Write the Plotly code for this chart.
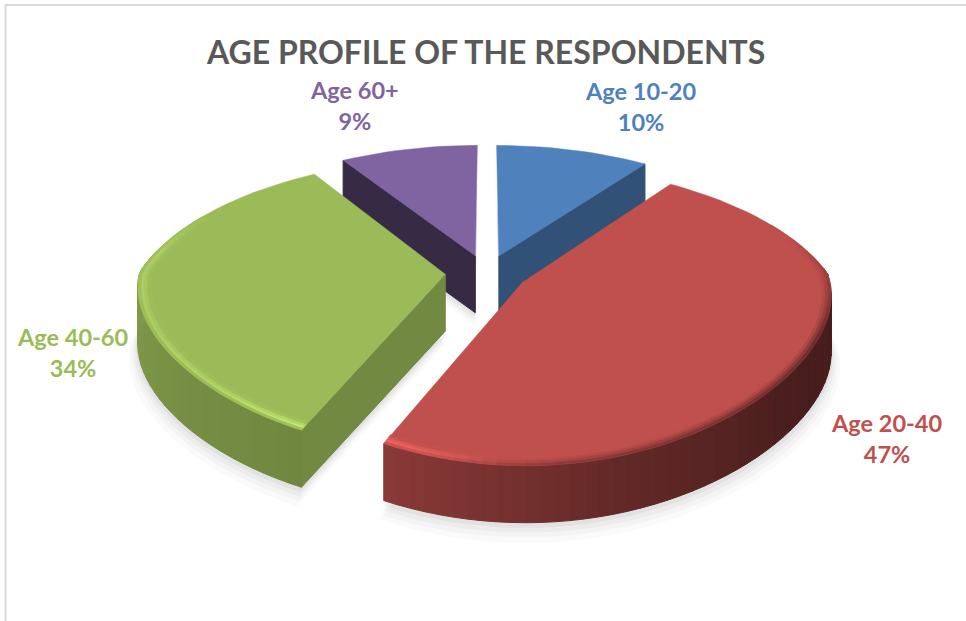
import numpy as np
import plotly.graph_objects as go

# ---- data ----
categories = ["Age 10-20", "Age 20-40", "Age 40-60", "Age 60+"]
percent = [10, 47, 34, 9]
colors = ["#4F81BD", "#C0504D", "#9BBB59", "#8064A2"]
title_text = "AGE PROFILE OF THE RESPONDENTS"

# ---- 3-D pie projection ----
CX, CY, A, B, H, EXPLODE = 486.5, 273.0, 306.0, 136.0, 57.0, 0.135


def project(u, v, depth=0.0):
    u, v = np.asarray(u, float), np.asarray(v, float)
    wx = 1.0 / (1.0 + np.where(v > 0, 0.23, 0.08) * v)
    wy = 1.0 / (1.0 + np.where(v > 0, 0.18, 0.23) * v)
    return CX + A * u * wx, CY - B * v * wy + depth * H


def rgb(hexstr):
    return np.array([int(hexstr[i:i + 2], 16) for i in (1, 3, 5)], float)


def css(c):
    c = np.clip(c, 0, 255)
    return f"rgb({c[0]:.0f},{c[1]:.0f},{c[2]:.0f})"


def poly(fig, xs, ys, color, width=1.0):
    xs, ys = list(xs), list(ys)
    fig.add_trace(go.Scatter(
        x=xs + [xs[0]], y=ys + [ys[0]], mode="lines", fill="toself",
        fillcolor=color, line=dict(color=color, width=width),
        hoverinfo="skip", showlegend=False))


def wall_shade(theta):
    return np.interp(theta, [90, 125, 165, 205, 270, 300], [.36, .38, .52, .72, .82, .82])


def rim_colour(base, theta, t):
    """t: 0 inner edge of the bevel, 1 outer edge."""
    strength = np.interp(theta, [150, 185, 204, 225, 250, 280, 300], [0, .06, .34, .2, .14, .16, 0])
    glow = np.exp(-((t - .6) / .32) ** 2) * strength
    c = base * (1 + .75 * glow)
    dark = np.interp(theta, [70, 110, 175, 195], [0, .5, .3, 0]) * np.interp(t, [.2, 1], [0, 1])
    dark += np.interp(theta, [195, 206, 300], [.05, .2, 0]) * np.interp(t, [.8, 1], [0, 1])
    return c * (1 - dark)


fig = go.Figure()
fractions = np.array(percent, float) / sum(percent)
ends = np.cumsum(fractions) * 360.0
starts = ends - fractions * 360.0

for idx in [3, 0, 2, 1]:                     # painter's order, far slices first
    base = rgb(colors[idx])
    t0, t1 = starts[idx], ends[idx]
    mid = np.radians((t0 + t1) / 2)
    ox, oy = EXPLODE * np.sin(mid), EXPLODE * np.cos(mid)
    n = max(6, int((t1 - t0) / 2.5))
    th = np.linspace(t0, t1, n + 1)
    ar = np.radians(th)
    ux, vy = ox + np.sin(ar), oy + np.cos(ar)

    # soft ground shadow
    for grow, drop, alpha in [(1.03, 13, .02), (1.02, 10, .025), (1.012, 7, .03), (1.005, 4, .04)]:
        su = np.r_[ox, ox + grow * np.sin(ar)]
        sv = np.r_[oy, oy + grow * np.cos(ar)]
        sx, sy = project(su, sv, 1.0)
        poly(fig, sx, sy + drop, f"rgba(0,0,0,{alpha})", width=0)

    # straight cut walls, only those that face the viewer
    cuts = []
    if 180 < t0 < 360:
        cuts.append((ux[0], vy[0]))
    if 0 < t1 < 180:
        cuts.append((ux[-1], vy[-1]))
    for end_u, end_v in cuts:
        x0, y0 = project(ox, oy)
        x1, y1 = project(end_u, end_v)
        x2, y2 = project(end_u, end_v, 1.0)
        x3, y3 = project(ox, oy, 1.0)
        shade = {0: .63, 2: .73, 3: .42}.get(idx, .5)
        poly(fig, [x0, x1, x2, x3], [y0, y1, y2, y3], css(base * shade))

    # curved outer wall
    for i in range(n):
        if np.cos(ar[i]) >= 0.12:
            continue
        xa, ya = project(ux[i], vy[i])
        xb, yb = project(ux[i + 1], vy[i + 1])
        xc, yc = project(ux[i + 1], vy[i + 1], 1.0)
        xd, yd = project(ux[i], vy[i], 1.0)
        poly(fig, [xa, xb, xc, xd], [ya, yb, yc, yd], css(base * wall_shade((th[i] + th[i + 1]) / 2)))

    # top face
    fx, fy = project(np.r_[ox, ux], np.r_[oy, vy])
    poly(fig, fx, fy, colors[idx], width=0.5)

    # bevel around the rim on the near side
    radii = [.955, .97, .98, .99, 1.0]
    for i in range(n):
        tm = (th[i] + th[i + 1]) / 2
        if np.cos(np.radians(tm)) > 0.45:
            continue
        for r in range(len(radii) - 1):
            r0, r1 = radii[r], radii[r + 1]
            q = [(r0, i), (r0, i + 1), (r1, i + 1), (r1, i)]
            qx, qy = project(np.array([ox + a * np.sin(ar[j]) for a, j in q]),
                             np.array([oy + a * np.cos(ar[j]) for a, j in q]))
            poly(fig, qx, qy, css(rim_colour(base, tm, (r + .5) / (len(radii) - 1))), width=0.3)

# ---- labels ----
label_pos = {0: (640, 106), 1: (886, 438), 2: (72, 352), 3: (354, 105)}
for idx, name in enumerate(categories):
    lx, ly = label_pos[idx]
    fig.add_annotation(x=lx, y=ly, text=f"{name}<br>{percent[idx]}%", showarrow=False,
                       align="center", font=dict(family="Lato", size=23.5, color=colors[idx], weight="bold"))

fig.add_annotation(x=485, y=51, text=title_text, showarrow=False,
                   font=dict(family="Lato", size=32, color="#595959", weight="bold"))

# page frame
fig.add_shape(type="line", x0=5, x1=966, y0=5, y1=5, line=dict(color="#d9d9d9", width=2))
fig.add_shape(type="line", x0=5.5, x1=5.5, y0=5, y1=621, line=dict(color="#d9d9d9", width=2))

fig.update_layout(
    width=966, height=621, margin=dict(l=0, r=0, t=0, b=0),
    paper_bgcolor="white", plot_bgcolor="white", showlegend=False,
    xaxis=dict(range=[0, 966], visible=False, fixedrange=True),
    yaxis=dict(range=[621, 0], visible=False, fixedrange=True),
)
fig.write_html("out.html", config={"displayModeBar": False},
               post_script="document.body.style.margin='0';document.body.style.overflow='hidden';")
